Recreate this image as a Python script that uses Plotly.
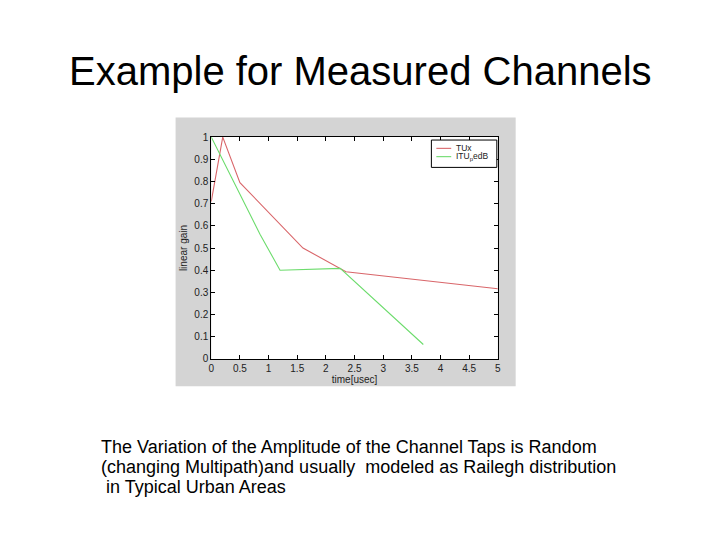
import plotly.graph_objects as go

W, H = 720, 540
PAGE_PAD = 8  # browser body margin around the plot div
FIG_W, FIG_H = W - 2 * PAGE_PAD, H - 2 * PAGE_PAD

# --- data ---
tux_time = [0.0, 0.2, 0.5, 1.6, 2.35, 5.0]
tux_gain = [0.71, 1.0, 0.795, 0.50, 0.393, 0.316]

itu_time = [0.0, 0.48, 0.85, 1.2, 2.25, 3.7]
itu_gain = [1.0, 0.753, 0.562, 0.40, 0.408, 0.065]

x_ticks = [0, 0.5, 1, 1.5, 2, 2.5, 3, 3.5, 4, 4.5, 5]
y_ticks = [0, 0.1, 0.2, 0.3, 0.4, 0.5, 0.6, 0.7, 0.8, 0.9, 1]

series_names = ["TUx", "ITU<sub>p</sub>edB"]
series_colors = ["#d9666a", "#6ddc6d"]

title_text = "Example for Measured Channels"
caption_lines = [
    "The Variation of the Amplitude of the Channel Taps is Random",
    "(changing Multipath)and usually&nbsp; modeled as Railegh distribution",
    "&nbsp;in Typical Urban Areas",
]

FONT = "Liberation Sans, Arial"


# window pixel -> paper fraction
def px_x(p):
    return (p - PAGE_PAD) / FIG_W


def px_y(p):
    return 1 - (p - PAGE_PAD) / FIG_H


fig = go.Figure()
for xs, ys, name, color in zip([tux_time, itu_time], [tux_gain, itu_gain],
                               series_names, series_colors):
    fig.add_trace(go.Scatter(x=xs, y=ys, mode="lines", name=name,
                             line=dict(color=color, width=1.1), showlegend=False))

axis_common = dict(
    showgrid=False, zeroline=False, showline=True, linecolor="black", linewidth=1,
    mirror="ticks", ticks="inside", ticklen=4, tickcolor="black",
    tickfont=dict(family=FONT, size=10, color="#222"),
)

# gray figure panel + white axes background
shapes = [
    dict(type="rect", xref="paper", yref="paper", layer="below",
         x0=px_x(174), x1=px_x(517), y0=px_y(389), y1=px_y(114),
         fillcolor="#d4d4d4", line=dict(width=0)),
    dict(type="rect", xref="paper", yref="paper", layer="below",
         x0=px_x(210), x1=px_x(499), y0=px_y(361), y1=px_y(134),
         fillcolor="white", line=dict(width=0)),
]

# legend box drawn by hand (matlab-style compact box)
shapes.append(dict(type="rect", xref="paper", yref="paper", layer="above",
                   x0=px_x(432), x1=px_x(498), y0=px_y(165), y1=px_y(137),
                   fillcolor="white", line=dict(color="black", width=1)))
annotations = []
for i, (name, color) in enumerate(zip(series_names, series_colors)):
    yy = px_y(145.5 + 8.5 * i)
    shapes.append(dict(type="line", xref="paper", yref="paper", layer="above",
                       x0=px_x(437), x1=px_x(452), y0=yy, y1=yy,
                       line=dict(color=color, width=1.1)))
    annotations.append(dict(text=name, xref="paper", yref="paper", x=px_x(455), y=yy,
                            xanchor="left", yanchor="middle", showarrow=False,
                            font=dict(family=FONT, size=8.5, color="#222")))

annotations.append(dict(text=title_text, xref="paper", yref="paper", x=px_x(360), y=px_y(66),
                        xanchor="center", yanchor="middle", showarrow=False,
                        font=dict(family=FONT, size=40, color="black")))
for i, line in enumerate(caption_lines):
    annotations.append(dict(text=line, xref="paper", yref="paper",
                            x=px_x(97), y=px_y(451 + 20.5 * i), xanchor="left", yanchor="middle",
                            showarrow=False,
                            font=dict(family=FONT, size=18, color="black")))

fig.update_layout(
    width=FIG_W, height=FIG_H,
    margin=dict(l=0, r=0, t=0, b=0),
    paper_bgcolor="white", plot_bgcolor="rgba(0,0,0,0)",
    showlegend=False,
    xaxis=dict(domain=[px_x(210), px_x(499)], range=[0, 5], tickvals=x_ticks,
               ticktext=[f"{v:g}" for v in x_ticks],
               title=dict(text="time[usec]", standoff=2,
                          font=dict(family=FONT, size=10, color="#222")),
               **axis_common),
    yaxis=dict(domain=[px_y(361), px_y(134)], range=[0, 1], tickvals=y_ticks,
               ticktext=[f"{v:g}" for v in y_ticks],
               title=dict(text="linear gain", standoff=4,
                          font=dict(family=FONT, size=10, color="#222")),
               **axis_common),
    shapes=shapes,
    annotations=annotations,
)

fig.write_html("out.html")
